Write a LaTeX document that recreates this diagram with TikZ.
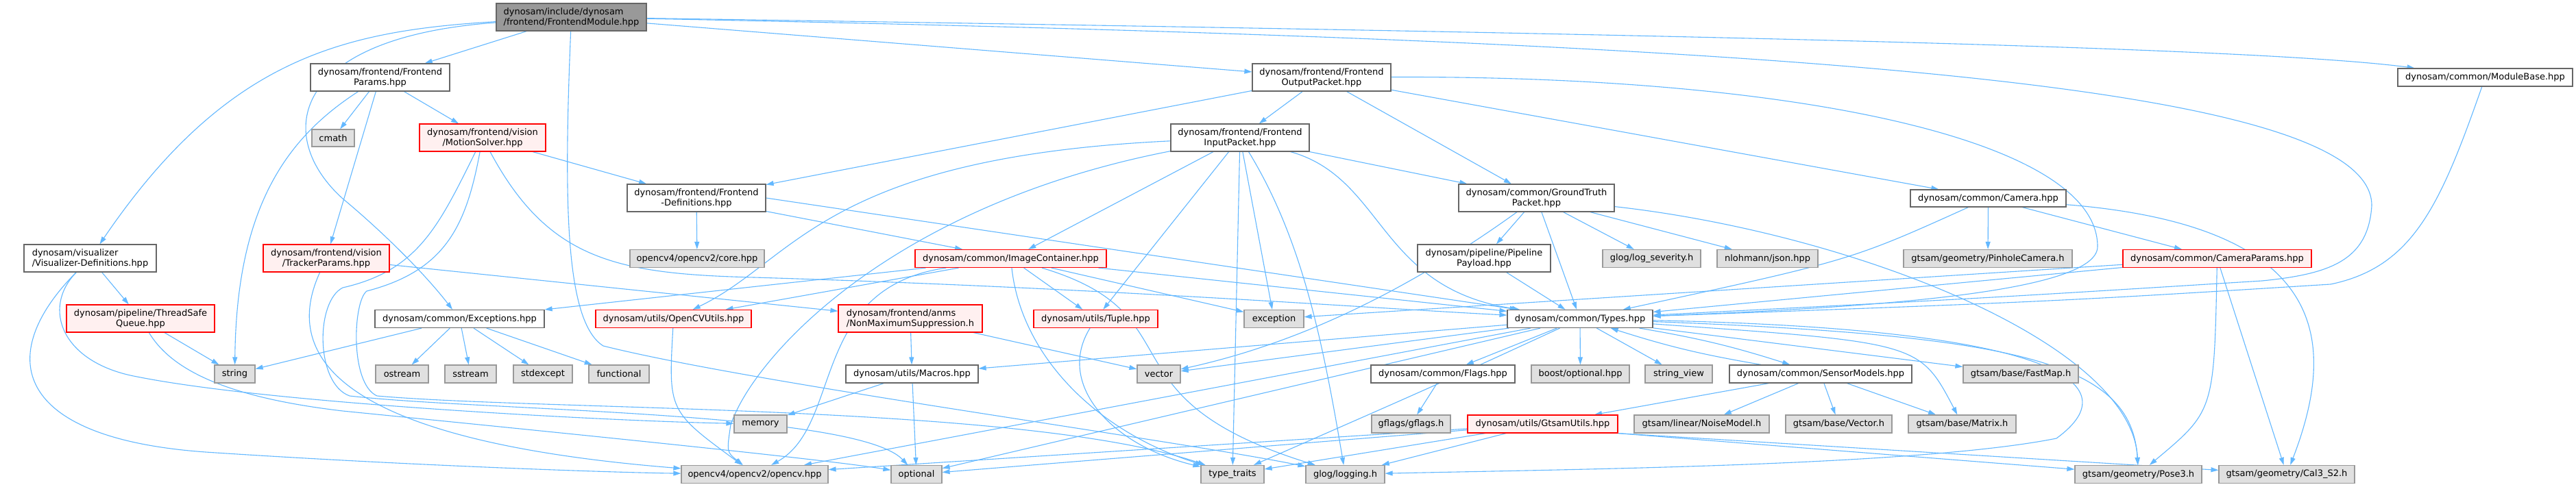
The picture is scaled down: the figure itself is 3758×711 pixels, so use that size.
\documentclass[tikz,border=0pt]{standalone}
\usepackage{fontspec}
\setmainfont{DejaVu Sans}
\usetikzlibrary{arrows.meta,backgrounds}

\definecolor{incblue}{HTML}{63B8FF}
\definecolor{truncpink}{HTML}{FFF0F0}

\begin{document}
\begin{tikzpicture}[x=1pt, y=-1pt,
    file/.style={draw=black!60, fill=white, line width=1.2pt, inner sep=0pt,
        font=\fontsize{13}{15}\selectfont, align=center, minimum height=26},
    tall/.style={minimum height=40},
    root/.style={file, fill=black!40},
    trunc/.style={file, draw=red, fill=truncpink},
    ext/.style={file, draw=black!40, fill=black!12},
    inc/.style={draw=incblue, line width=1.1pt, -{Triangle[length=11pt,width=7pt]}}]

\useasboundingbox (0,0) rectangle (3758,711);

% first rows
\node[root, tall, minimum width=219, align=left] (fm) at (833.5,25) {dynosam/include/dynosam\\/frontend/FrontendModule.hpp};
\node[file, tall, minimum width=203] (fparams) at (554.5,113) {dynosam/frontend/Frontend\\Params.hpp};
\node[file, tall, minimum width=202] (outpacket) at (1928,113) {dynosam/frontend/Frontend\\OutputPacket.hpp};
\node[file, minimum width=255] (modulebase) at (3625.5,113) {dynosam/common/ModuleBase.hpp};
\node[ext, minimum width=62, minimum height=25] (cmath) at (486,201.5) {cmath};
\node[trunc, tall, minimum width=184] (msolver) at (704,201) {dynosam/frontend/vision\\/MotionSolver.hpp};
\node[file, tall, minimum width=202] (inpacket) at (1809,201) {dynosam/frontend/Frontend\\InputPacket.hpp};
\node[file, tall, minimum width=202] (fdefs) at (1016,289) {dynosam/frontend/Frontend\\-Definitions.hpp};
\node[file, tall, minimum width=227] (gtpacket) at (2241.5,289) {dynosam/common/GroundTruth\\Packet.hpp};
\node[file, minimum width=227, minimum height=25] (camera) at (2900.5,289.5) {dynosam/common/Camera.hpp};

% middle rows
\node[file, tall, minimum width=193, align=left] (vis) at (131.5,377) {dynosam/visualizer\\/Visualizer-Definitions.hpp};
\node[trunc, tall, minimum width=184] (tparams) at (476,377) {dynosam/frontend/vision\\/TrackerParams.hpp};
\node[ext, minimum width=196] (core) at (1017,377.5) {opencv4/opencv2/core.hpp};
\node[trunc, minimum width=279] (imgcont) at (1474.5,377.5) {dynosam/common/ImageContainer.hpp};
\node[file, tall, minimum width=194] (payload) at (2165,377) {dynosam/pipeline/Pipeline\\Payload.hpp};
\node[ext, minimum width=143] (logsev) at (2409.5,377.5) {glog/log\_severity.h};
\node[ext, minimum width=147] (json) at (2578.5,377.5) {nlohmann/json.hpp};
\node[ext, minimum width=246] (pinhole) at (2900,377.5) {gtsam/geometry/PinholeCamera.h};
\node[trunc, minimum width=275] (camparams) at (3234.5,377.5) {dynosam/common/CameraParams.hpp};

\node[trunc, tall, minimum width=216] (queue) at (205,465) {dynosam/pipeline/ThreadSafe\\Queue.hpp};
\node[file, minimum width=247] (exceptions) at (670.5,465.5) {dynosam/common/Exceptions.hpp};
\node[trunc, minimum width=227] (opencvutils) at (982.5,465.5) {dynosam/utils/OpenCVUtils.hpp};
\node[trunc, tall, minimum width=210, align=left] (nms) at (1328,465) {dynosam/frontend/anms\\/NonMaximumSuppression.h};
\node[trunc, minimum width=181] (tuple) at (1598.5,465.5) {dynosam/utils/Tuple.hpp};
\node[ext, minimum width=87] (exception) at (1858.5,465.5) {exception};
\node[file, minimum width=212] (types) at (2305,465.5) {dynosam/common/Types.hpp};

% std headers and leaves
\node[ext, minimum width=59] (string) at (342.5,546) {string};
\node[ext, minimum width=77] (ostream) at (586.5,546) {ostream};
\node[ext, minimum width=75] (sstream) at (686.5,546) {sstream};
\node[ext, minimum width=86] (stdexcept) at (792,546) {stdexcept};
\node[ext, minimum width=88] (functional) at (903,546) {functional};
\node[file, minimum width=193] (macros) at (1330.5,546) {dynosam/utils/Macros.hpp};
\node[ext, minimum width=63] (vector) at (1690.5,546) {vector};
\node[file, minimum width=210] (flags) at (2105,546) {dynosam/common/Flags.hpp};
\node[ext, minimum width=143] (boostopt) at (2305.5,546) {boost/optional.hpp};
\node[ext, minimum width=98] (strview) at (2449,546) {string\_view};
\node[file, minimum width=266] (sensor) at (2656,546) {dynosam/common/SensorModels.hpp};
\node[ext, minimum width=168] (fastmap) at (2948,546) {gtsam/base/FastMap.h};

\node[ext, minimum width=77] (memory) at (1109.5,619) {memory};
\node[ext, minimum width=115] (gflags) at (2058.5,619) {gflags/gflags.h};
\node[trunc, minimum width=219] (gtsamutils) at (2250.5,619) {dynosam/utils/GtsamUtils.hpp};
\node[ext, minimum width=197] (noise) at (2482.5,619) {gtsam/linear/NoiseModel.h};
\node[ext, minimum width=155] (vectorh) at (2682.5,619) {gtsam/base/Vector.h};
\node[ext, minimum width=157] (matrix) at (2862.5,619) {gtsam/base/Matrix.h};

\node[ext, minimum width=214] (opencv) at (1101,692.5) {opencv4/opencv2/opencv.hpp};
\node[ext, minimum width=74] (optional) at (1337,692.5) {optional};
\node[ext, minimum width=92] (typetraits) at (1798,692.5) {type\_traits};
\node[ext, minimum width=115] (logging) at (1962.5,692.5) {glog/logging.h};
\node[ext, minimum width=185] (pose3) at (3119.5,692.5) {gtsam/geometry/Pose3.h};
\node[ext, minimum width=198] (cal3) at (3336,692.5) {gtsam/geometry/Cal3\_S2.h};

\begin{pgfonlayer}{background}
% page
\fill[white] (0,0) rectangle (3758,711);

% FrontendModule
\draw[inc] (fm) -- (fparams);
\draw[inc] (fm) .. controls (500,45) and (330,85) .. (vis);
\draw[inc] (fm) .. controls (420,55) and (400,200) .. (500,290) .. controls (560,340) and (620,400) .. (exceptions);
\draw[inc] (fm) .. controls (822,300) and (825,470) .. (880,505) .. controls (1100,560) and (1700,640) .. (logging);
\draw[inc] (fm) -- (outpacket);
\draw[inc] (fm) .. controls (2500,50) and (3300,70) .. (modulebase);
\draw[inc] (fm) .. controls (2600,60) and (3460,120) .. (3460,300) .. controls (3455,380) and (3400,400) .. (3300,410) .. controls (2900,435) .. (types);

% FrontendParams
\draw[inc] (fparams) -- (cmath);
\draw[inc] (fparams) .. controls (420,200) and (345,300) .. (string);
\draw[inc] (fparams) -- (tparams);
\draw[inc] (fparams) -- (msolver);

% MotionSolver and TrackerParams
\draw[inc] (msolver) -- (fdefs);
\draw[inc] (msolver) .. controls (800,380) and (900,400) .. (1100,405) .. controls (1600,420) and (2000,450) .. (types);
\draw[inc] (msolver) .. controls (640,330) and (610,395) .. (500,420) .. controls (460,440) and (460,560) .. (510,578) .. controls (700,600) and (1250,600) .. (optional);
\draw[inc] (msolver) .. controls (680,330) and (650,395) .. (535,425) .. controls (515,440) and (510,560) .. (550,578) .. controls (800,600) and (1500,590) .. (typetraits);
\draw[inc] (tparams) -- (nms);
\draw[inc] (tparams) .. controls (420,500) and (450,640) .. (opencv);

% visualizer
\draw[inc] (vis) -- (queue);
\draw[inc] (vis) .. controls (-10,520) and (20,640) .. (300,660) .. controls (600,680) and (900,690) .. (opencv);
\draw[inc] (vis) .. controls (60,450) and (90,530) .. (200,550) .. controls (400,590) and (900,615) .. (memory);
\draw[inc] (queue) -- (string);
\draw[inc] (queue) .. controls (250,540) and (330,580) .. (500,600) .. controls (800,630) and (1200,670) .. (optional);

% Exceptions
\draw[inc] (exceptions) -- (string);
\draw[inc] (exceptions) -- (ostream);
\draw[inc] (exceptions) -- (sstream);
\draw[inc] (exceptions) -- (stdexcept);
\draw[inc] (exceptions) -- (functional);

% OutputPacket
\draw[inc] (outpacket) -- (fdefs);
\draw[inc] (outpacket) -- (inpacket);
\draw[inc] (outpacket) -- (gtpacket);
\draw[inc] (outpacket) -- (camera);
\draw[inc] (outpacket) .. controls (2600,110) and (3060,200) .. (3060,360) .. controls (3060,430) and (2700,450) .. (types);

% InputPacket
\draw[inc] (inpacket) -- (imgcont);
\draw[inc] (inpacket) -- (tuple);
\draw[inc] (inpacket) -- (typetraits);
\draw[inc] (inpacket) -- (exception);
\draw[inc] (inpacket) .. controls (1900,350) and (1930,500) .. (logging);
\draw[inc] (inpacket) -- (gtpacket);
\draw[inc] (inpacket) .. controls (2020,260) and (2010,420) .. (types);
\draw[inc] (inpacket) .. controls (1200,230) and (1160,380) .. (opencvutils);
\draw[inc] (inpacket) .. controls (1300,300) and (1100,520) .. (1066,620) .. controls (1060,660) .. (opencv);

% Frontend-Definitions
\draw[inc] (fdefs) -- (core);
\draw[inc] (fdefs.east) -- (types);
\draw[inc] (fdefs) -- (imgcont);

% ImageContainer
\draw[inc] (imgcont) -- (exceptions);
\draw[inc] (imgcont) -- (opencvutils);
\draw[inc] (imgcont) .. controls (1180,420) and (1230,620) .. (opencv);
\draw[inc] (imgcont) .. controls (1490,520) and (1600,630) .. (typetraits);
\draw[inc] (imgcont) -- (tuple);
\draw[inc] (imgcont) -- (exception);
\draw[inc] (imgcont) .. controls (1750,460) and (1600,580) .. (logging);
\draw[inc] (imgcont) -- (types);

% utils
\draw[inc] (opencvutils) .. controls (975,600) .. (opencv);
\draw[inc] (nms) -- (macros);
\draw[inc] (nms) -- (vector);
\draw[inc] (macros) -- (memory);
\draw[inc] (macros) -- (optional);
\draw[inc] (tuple) .. controls (1540,560) and (1620,650) .. (typetraits);

% GroundTruthPacket
\draw[inc] (gtpacket) -- (payload);
\draw[inc] (gtpacket) -- (types);
\draw[inc] (gtpacket) -- (logsev);
\draw[inc] (gtpacket) -- (json);
\draw[inc] (gtpacket) .. controls (2700,340) and (3110,500) .. (pose3);
\draw[inc] (gtpacket) .. controls (2060,420) and (1900,500) .. (vector);
\draw[inc] (payload) -- (types);

% Camera
\draw[inc] (camera) .. controls (2700,380) .. (types);
\draw[inc] (camera) -- (pinhole);
\draw[inc] (camera) -- (camparams);
\draw[inc] (camera) .. controls (3400,330) and (3410,500) .. (cal3);
\draw[inc] (camparams) -- (exception);
\draw[inc] (camparams) -- (types);
\draw[inc] (camparams) .. controls (3230,600) .. (pose3);
\draw[inc] (camparams) -- (cal3);
\draw[inc] (modulebase) .. controls (3560,300) and (3520,390) .. (3400,415) .. controls (3000,440) .. (types);

% Types
\draw[inc] (types) -- (macros);
\draw[inc] (types) -- (vector);
\draw[inc] (types) -- (optional);
\draw[inc] (types) -- (opencv);
\draw[inc] (types) .. controls (2100,560) .. (typetraits);
\draw[inc] (types) .. controls (3000,480) and (3110,560) .. (3000,640) .. controls (2800,680) and (2300,685) .. (logging);
\draw[inc] (types) -- (flags);
\draw[inc] (types) -- (boostopt);
\draw[inc] (types) -- (strview);
\draw[inc] (types) to[bend left=4] (sensor);
\draw[inc] (types) -- (fastmap);
\draw[inc] (types) .. controls (2800,500) .. (matrix);
\draw[inc] (types) .. controls (2950,490) and (3110,530) .. (pose3);

% SensorModels, Flags, GtsamUtils
\draw[inc] (sensor) to[bend left=4] (types);
\draw[inc] (sensor) -- (gtsamutils);
\draw[inc] (sensor) -- (noise);
\draw[inc] (sensor) -- (vectorh);
\draw[inc] (sensor) -- (matrix);
\draw[inc] (flags) -- (gflags);
\draw[inc] (gtsamutils) -- (opencv);
\draw[inc] (gtsamutils) -- (optional);
\draw[inc] (gtsamutils) -- (typetraits);
\draw[inc] (gtsamutils) -- (logging);
\draw[inc] (gtsamutils.south east) -- (pose3);
\draw[inc] (gtsamutils.south east) -- (cal3);
\end{pgfonlayer}

\end{tikzpicture}
\end{document}
